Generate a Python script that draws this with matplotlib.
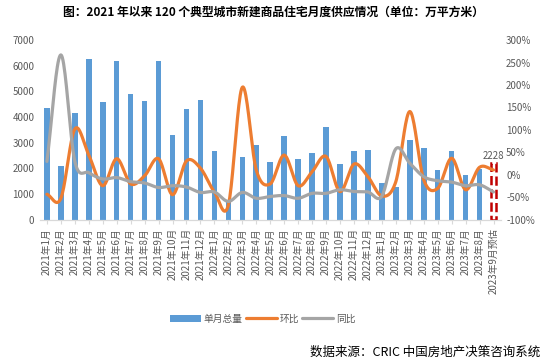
import numpy as np
import matplotlib.pyplot as plt

plt.rcParams['font.family'] = ['Noto Sans CJK SC', 'DejaVu Sans']

# 月份标签
months = [f"2021年{m}月" for m in range(1, 13)] + \
         [f"2022年{m}月" for m in range(1, 13)] + \
         [f"2023年{m}月" for m in range(1, 9)] + ["2023年9月预估"]

# 单月总量（万平方米），最后一个是预估
supply = [4370, 2113, 4175, 6276, 4603, 6198, 4914, 4642, 6198, 3319, 4319, 4675,
          2685, 780, 2463, 2918, 2257, 3268, 2374, 2607, 3619, 2179, 2685, 2724,
          1452, 1297, 3113, 2815, 1946, 2698, 1751, 1972, 2228]

# 环比 (%)
mom = [-43, -52, 102, 44, -24, 36, -20, -2, 36, -44, 31, 15,
       -38, -67, 195, 11, -20, 44, -24, 7, 41, -37, 24, -4,
       -47, -15, 141, -11, -30, 37, -33, 17, 11]

# 同比 (%)
yoy = [30, 267, 30, 5, -9, -6, -15, -18, -28, -24, -27, -39,
       -38, -59, -39, -52, -48, -46, -52, -41, -41, -33, -37, -38,
       -47, 58, 26, -4, -13, -16, -24, -22, -38]

BLUE = "#5B9BD5"
ORANGE = "#ED7D31"
GRAY = "#A5A5A5"
TXT = "#595959"


def smooth(y, n=20):
    # catmull-rom, 类似excel的平滑线
    y = np.asarray(y, dtype=float)
    p = np.concatenate([[2 * y[0] - y[1]], y, [2 * y[-1] - y[-2]]])
    xs, ys = [], []
    for i in range(len(y) - 1):
        p0, p1, p2, p3 = p[i], p[i + 1], p[i + 2], p[i + 3]
        t = np.linspace(0, 1, n, endpoint=False)
        v = 0.5 * ((2 * p1) + (-p0 + p2) * t + (2 * p0 - 5 * p1 + 4 * p2 - p3) * t ** 2
                   + (-p0 + 3 * p1 - 3 * p2 + p3) * t ** 3)
        xs.append(i + t)
        ys.append(v)
    xs.append([len(y) - 1])
    ys.append([y[-1]])
    return np.concatenate(xs), np.concatenate(ys)


x = np.arange(len(months))

fig = plt.figure(figsize=(5.47, 3.64), dpi=100)
ax = fig.add_axes([0.073, 0.396, 0.842, 0.494])
ax2 = ax.twinx()

bars = ax.bar(x[:-1], supply[:-1], width=0.4, color=BLUE, label="单月总量", zorder=2)
ax.bar(x[-1], supply[-1], width=0.4, facecolor="none", edgecolor="#C00000",
       linestyle="--", linewidth=1.8, zorder=2)
ax.text(x[-1], supply[-1] + 60, str(supply[-1]), ha="center", va="bottom",
        fontsize=7, color=TXT)

sx, sy = smooth(mom)
ax2.plot(sx, sy, color=ORANGE, lw=2.3, label="环比", solid_capstyle="round")
gx, gy = smooth(yoy)
ax2.plot(gx, gy, color=GRAY, lw=2.3, label="同比", solid_capstyle="round")

ax.set_ylim(0, 7000)
ax.set_yticks(range(0, 7001, 1000))
ax2.set_ylim(-100, 300)
ax2.set_yticks(range(-100, 301, 50))
ax2.set_yticklabels([f"{v}%" for v in range(-100, 301, 50)])
ax.set_xlim(-0.5, len(months) - 0.5)
ax.set_xticks(x)
ax.set_xticklabels(months, rotation=90, fontsize=7, color=TXT)

for a in (ax, ax2):
    for s in ("top", "left", "right"):
        a.spines[s].set_visible(False)
    a.spines["bottom"].set_color("#D9D9D9")
    a.tick_params(axis="y", length=0, labelsize=7, labelcolor=TXT, pad=4)
ax.tick_params(axis="x", length=3, color="#D9D9D9", pad=3)

h1, l1 = ax.get_legend_handles_labels()
h2, l2 = ax2.get_legend_handles_labels()
fig.legend(h1 + h2, l1 + l2, loc="center", bbox_to_anchor=(0.48, 0.125), ncol=3,
           frameon=False, fontsize=7, labelcolor=TXT, handlelength=3.2,
           handletextpad=0.3, columnspacing=0.3)

fig.text(0.5, 0.965, "图：2021 年以来 120 个典型城市新建商品住宅月度供应情况（单位：万平方米）",
         ha="center", va="center", fontsize=8.5, fontweight="bold")
fig.text(0.988, 0.033, "数据来源：CRIC 中国房地产决策咨询系统", ha="right", va="center",
         fontsize=9)

fig.savefig("out.png", dpi=100)
